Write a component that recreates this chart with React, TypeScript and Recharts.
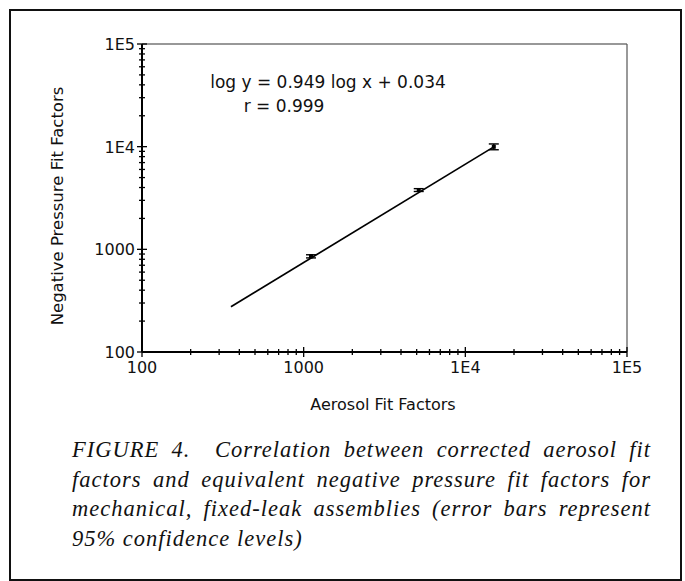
import React from 'react'
import { ComposedChart, Scatter, XAxis, YAxis, ErrorBar, ReferenceLine } from 'recharts'

// fitted regression line, drawn between its two end points
const fitX = [355, 15000]
const fitY = [276, 9950]

// measured points (aerosol FF, negative pressure FF) with 95% CI
const pointX = [1110, 5150, 15000]
const pointY = [855, 3780, 9980]
const pointErrLow = [30, 120, 650]
const pointErrHigh = [30, 120, 650]

const majorTicks = [100, 1000, 10000, 100000]
const majorLabels = ['100', '1000', '1E4', '1E5']
const minorMultipliers = [2, 3, 4, 5, 6, 7, 8, 9]

const decadeTicks: number[] = []
majorTicks.forEach((m, i) => {
  decadeTicks.push(m)
  if (i < majorTicks.length - 1) minorMultipliers.forEach((k) => decadeTicks.push(m * k))
})

const fitData = fitX.map((x, i) => ({ x, y: fitY[i] }))
const pointData = pointX.map((x, i) => ({ x, y: pointY[i], err: [pointErrLow[i], pointErrHigh[i]] }))

const FONT = '"DejaVu Sans", sans-serif'

const labelFor = (v: number) => {
  const i = majorTicks.indexOf(v)
  return i >= 0 ? majorLabels[i] : null
}

const XTick = ({ x, y, payload }: any) => {
  const label = labelFor(payload.value)
  const h = label ? 5 : 3
  return (
    <g>
      <line x1={x} x2={x} y1={y - h} y2={y + h} stroke="#000" strokeWidth={1.3} />
      {label && (
        <text x={x} y={y + 21} textAnchor="middle" fontFamily={FONT} fontSize={16} fill="#111">
          {label}
        </text>
      )}
    </g>
  )
}

const YTick = ({ x, y, payload }: any) => {
  const label = labelFor(payload.value)
  const h = label ? 5 : 3
  return (
    <g>
      <line x1={x - h} x2={x + h} y1={y} y2={y} stroke="#000" strokeWidth={1.3} />
      {label && (
        <text x={x - 7} y={y + 6} textAnchor="end" fontFamily={FONT} fontSize={16} fill="#111">
          {label}
        </text>
      )}
    </g>
  )
}

const PointMark = ({ cx, cy }: any) => (
  <rect x={cx - 2} y={cy - 2} width={4} height={4} fill="#000" />
)

const captionLines = [
  'FIGURE 4.  Correlation between corrected aerosol fit',
  'factors and equivalent negative pressure fit factors for',
  'mechanical, fixed-leak assemblies (error bars represent',
  '95% confidence levels)',
]

export default function App() {
  return (
    <div style={{ position: 'absolute', left: 0, top: 0, width: 685, height: 581, background: '#fff' }}>
      <div
        style={{
          position: 'absolute',
          left: 9,
          top: 9,
          width: 673,
          height: 572,
          border: '2px solid #111',
          boxSizing: 'border-box',
        }}
      />
      <div style={{ position: 'absolute', left: 0, top: 0 }}>
        <ComposedChart width={685} height={400} margin={{ top: 44, right: 58, bottom: 18, left: 62 }}>
          <XAxis
            type="number"
            dataKey="x"
            scale="log"
            domain={[100, 100000]}
            ticks={decadeTicks}
            interval={0}
            allowDataOverflow
            tick={<XTick />}
            tickSize={0}
            tickMargin={0}
            tickLine={false}
            axisLine={{ stroke: '#000', strokeWidth: 2 }}
            height={30}
          />
          <YAxis
            type="number"
            dataKey="y"
            scale="log"
            domain={[100, 100000]}
            ticks={decadeTicks}
            interval={0}
            allowDataOverflow
            tick={<YTick />}
            tickSize={0}
            tickMargin={0}
            tickLine={false}
            axisLine={{ stroke: '#000', strokeWidth: 2 }}
            width={80}
          />
          <ReferenceLine y={100000} stroke="#333" strokeWidth={1.2} />
          <ReferenceLine x={100000} stroke="#555" strokeWidth={1.2} />
          <Scatter
            data={fitData}
            line={{ stroke: '#000', strokeWidth: 1.7 }}
            shape={() => <g />}
            legendType="none"
            isAnimationActive={false}
          />
          <Scatter data={pointData} shape={<PointMark />} legendType="none" isAnimationActive={false}>
            <ErrorBar dataKey="err" direction="y" width={5} stroke="#000" strokeWidth={1.4} />
          </Scatter>
        </ComposedChart>
      </div>
      <svg width={685} height={440} style={{ position: 'absolute', left: 0, top: 0, pointerEvents: 'none' }}>
        <text x={328} y={88} textAnchor="middle" fontFamily={FONT} fontSize={17} fill="#111">
          log y = 0.949 log x + 0.034
        </text>
        <text x={284} y={112} textAnchor="middle" fontFamily={FONT} fontSize={17} fill="#111">
          r = 0.999
        </text>
        <text x={383} y={410} textAnchor="middle" fontFamily={FONT} fontSize={16} fill="#111">
          Aerosol Fit Factors
        </text>
        <text
          x={63}
          y={206}
          transform="rotate(-90 63 206)"
          textAnchor="middle"
          fontFamily={FONT}
          fontSize={16.5}
          fill="#111"
        >
          Negative Pressure Fit Factors
        </text>
      </svg>
      <div
        style={{
          position: 'absolute',
          left: 72,
          top: 435,
          width: 579,
          fontFamily: '"Liberation Serif", "Times New Roman", serif',
          fontStyle: 'italic',
          fontSize: 22.5,
          letterSpacing: 1,
          lineHeight: '29.5px',
          color: '#111',
        }}
      >
        {captionLines.map((line, i) => (
          <div
            key={i}
            style={{
              whiteSpace: 'pre',
              textAlign: i < captionLines.length - 1 ? 'justify' : 'left',
              textAlignLast: i < captionLines.length - 1 ? 'justify' : 'left',
            }}
          >
            {line}
          </div>
        ))}
      </div>
    </div>
  )
}
